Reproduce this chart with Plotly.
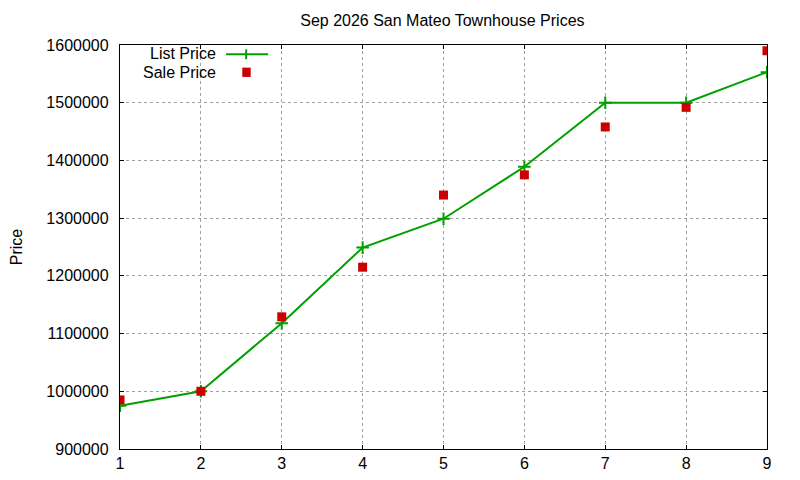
import plotly.graph_objects as go

months = [1, 2, 3, 4, 5, 6, 7, 8, 9]
list_price = [975000, 1000000, 1118000, 1249000, 1299000, 1389000, 1500000, 1500000, 1553000]
sale_price = [985000, 1000000, 1129000, 1215000, 1340000, 1375000, 1458000, 1492000, 1590000]

y_ticks = [900000, 1000000, 1100000, 1200000, 1300000, 1400000, 1500000, 1600000]

green = "#00a000"
red = "#cc0000"
font = "Liberation Sans, Arial, sans-serif"

fig = go.Figure()

fig.add_trace(go.Scatter(
    x=months, y=list_price, name="List Price",
    mode="lines+markers",
    line=dict(color=green, width=2),
    marker=dict(symbol="cross-thin", size=9, line=dict(color=green, width=2)),
    showlegend=False,
))
fig.add_trace(go.Scatter(
    x=months, y=sale_price, name="Sale Price",
    mode="markers",
    marker=dict(symbol="square", size=9, color=red),
    showlegend=False,
))

# gnuplot style legend, text on the left, sample on the right
fig.add_annotation(x=0.152, y=0.980, xref="paper", yref="paper", text="List Price",
                   showarrow=False, xanchor="right", yanchor="middle",
                   font=dict(family=font, size=16, color="black"))
fig.add_annotation(x=0.152, y=0.932, xref="paper", yref="paper", text="Sale Price",
                   showarrow=False, xanchor="right", yanchor="middle",
                   font=dict(family=font, size=16, color="black"))
fig.add_shape(type="line", xref="paper", yref="paper", x0=0.164, x1=0.229, y0=0.977, y1=0.977,
              line=dict(color=green, width=2))
fig.add_shape(type="line", xref="paper", yref="paper", x0=0.195, x1=0.195, y0=0.965, y1=0.989,
              line=dict(color=green, width=2))
fig.add_shape(type="rect", xref="paper", yref="paper", x0=0.189, x1=0.202, y0=0.921, y1=0.944,
              line=dict(width=0), fillcolor=red)

axis_common = dict(
    showline=True, linecolor="black", linewidth=1.3, mirror="allticks",
    ticks="inside", ticklen=4, tickcolor="black",
    showgrid=True, gridcolor="#a0a0a0", griddash="dot", gridwidth=1,
    zeroline=False, automargin=False,
    tickfont=dict(family=font, size=16, color="black"),
)

fig.update_xaxes(range=[1, 9], tickvals=months, ticklabelstandoff=0, **axis_common)
fig.update_yaxes(range=[900000, 1600000], tickvals=y_ticks, ticktext=[str(v) for v in y_ticks],
                 ticklabelstandoff=7,
                 title=dict(text="Price", font=dict(family=font, size=16, color="black"), standoff=27),
                 **axis_common)

# page body adds ~8px offset, margins compensate
fig.update_layout(
    width=800, height=480,
    margin=dict(l=112, r=41, t=37, b=39),
    paper_bgcolor="white", plot_bgcolor="white",
    title=dict(text="Sep 2026 San Mateo Townhouse Prices", x=0.543, xanchor="center",
               y=0.975, yanchor="middle",
               font=dict(family=font, size=16, color="black")),
    showlegend=False,
)

fig.write_html("out.html")
